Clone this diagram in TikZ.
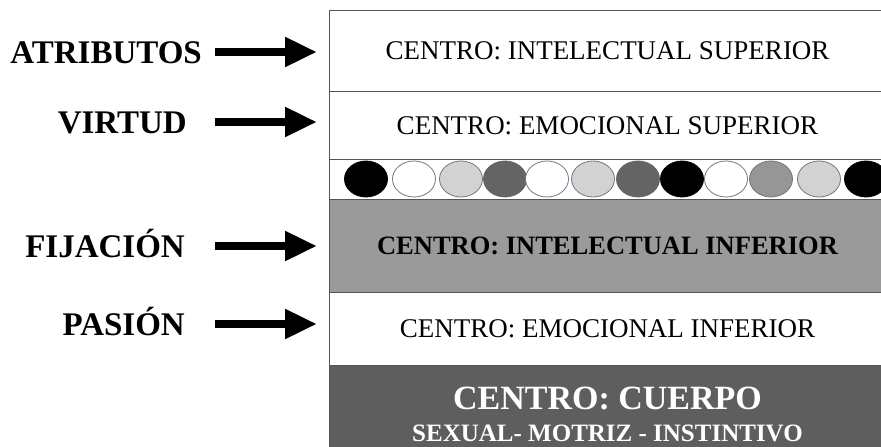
\documentclass[tikz,border=0pt]{standalone}
\usepackage{fontspec}
\setmainfont{Liberation Serif}
\usetikzlibrary{arrows.meta,positioning}

\definecolor{capagris}{HTML}{9A9A9A}
\definecolor{capaoscura}{HTML}{5E5E5E}
\definecolor{bolaclara}{HTML}{D2D2D2}
\definecolor{bolamedia}{HTML}{969696}
\definecolor{bolaoscura}{HTML}{646464}
\definecolor{borde}{HTML}{555555}
\definecolor{bordebola}{HTML}{6E7686}

\begin{document}
\begin{tikzpicture}[
        x=1pt,y=-1pt,
        capa/.style={draw=borde,line width=1pt,minimum width=556pt,anchor=north west,inner sep=0pt,
            font=\fontsize{27}{30}\selectfont},
        etiqueta/.style={font=\fontsize{33}{33}\selectfont\bfseries,inner sep=0pt,anchor=base east,
            text height=22pt,text depth=0pt},
        flecha/.style={line width=8.5pt,-{Triangle[length=32pt,width=28pt]},shorten >=12pt}
    ]
        \useasboundingbox (0,0) rectangle (881,447);

        % capas
        \node[capa,minimum height=80.7pt] (intsup) at (329,10) {CENTRO: INTELECTUAL SUPERIOR};
        \node[capa,minimum height=68.3pt] (emosup) at (329,90.7) {CENTRO: EMOCIONAL SUPERIOR};
        \node[capa,minimum height=39.5pt,fill=white] (bolas) at (329,159) {};
        \node[capa,minimum height=93pt,fill=capagris,font=\fontsize{26.5}{30}\selectfont\bfseries]
            (intinf) at (329,198.5) {CENTRO: INTELECTUAL INFERIOR};
        \node[capa,minimum height=98pt,fill=capaoscura,text=white,align=center,
            font=\fontsize{25}{32}\selectfont\bfseries]
            (cuerpo) at (329,364.7) {{\fontsize{34}{34}\selectfont CENTRO: CUERPO}\\
            SEXUAL- MOTRIZ - INSTINTIVO};
        \node[capa,minimum height=73.2pt] (emoinf) at (329,291.5) {CENTRO: EMOCIONAL INFERIOR};

        % bolas
        \foreach \cx/\relleno/\trazo in {366/black/black, 414/white/bordebola, 461/bolaclara/bordebola,
                505/bolaoscura/bolaoscura, 547/white/bordebola, 593/bolaclara/bordebola,
                638/bolaoscura/bolaoscura, 682/black/black, 726/white/bordebola,
                771/bolamedia/bordebola, 819/bolaclara/bordebola, 866/black/black}
            \filldraw[fill=\relleno,draw=\trazo,line width=0.8pt] (\cx,179) ellipse [x radius=21.5pt,y radius=18pt];

        % etiquetas
        \node[etiqueta] (atrib) at (202,63) {ATRIBUTOS};
        \node[etiqueta] (virtud) at (187,133) {VIRTUD};
        \node[etiqueta] (fijac) at (185,257) {FIJACIÓN};
        \node[etiqueta] (pasion) at (185,335) {PASIÓN};

        % flechas
        \coordinate (cola) at (215,0);
        \draw[flecha] (atrib.east -| cola) -- (atrib.east -| intsup.west);
        \draw[flecha] (virtud.east -| cola) -- (virtud.east -| emosup.west);
        \draw[flecha] (fijac.east -| cola) -- (fijac.east -| intinf.west);
        \draw[flecha] (pasion.east -| cola) -- (pasion.east -| emoinf.west);
    \end{tikzpicture}
\end{document}
